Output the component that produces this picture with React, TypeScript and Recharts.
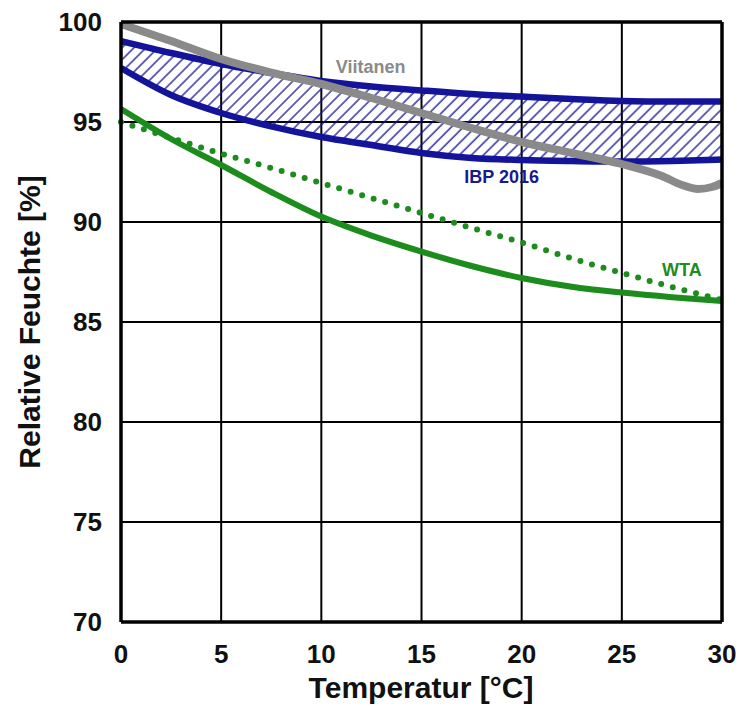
import React from 'react';
import {
  ComposedChart,
  Line,
  Area,
  XAxis,
  YAxis,
  CartesianGrid,
  ReferenceLine,
  ReferenceDot,
  Label,
} from 'recharts';

// ---- data ----
const temps = [0, 2.5, 5, 7.5, 10, 12.5, 15, 17.5, 20, 22.5, 25, 27.5, 30];
const ibpUpper = [99.05, 98.45, 97.9, 97.45, 97.05, 96.78, 96.58, 96.4, 96.27, 96.15, 96.05, 96.02, 96.02];
const ibpLower = [97.7, 96.35, 95.45, 94.78, 94.25, 93.85, 93.45, 93.2, 93.1, 93.05, 93.02, 93.05, 93.12];
const wtaSolid = [95.65, 94.15, 92.85, 91.5, 90.27, 89.32, 88.52, 87.8, 87.2, 86.76, 86.47, 86.24, 86.05];
const wtaDotted = [95.0, 94.2, 93.42, 92.7, 91.95, 91.2, 90.45, 89.7, 88.97, 88.18, 87.45, 86.75, 86.1];

const viitanenT = [0, 2.5, 5, 7.5, 10, 12.5, 15, 17.5, 20, 22.5, 25, 27, 28, 28.8, 29.5, 30];
const viitanenRH = [99.9, 99.05, 98.15, 97.47, 96.9, 96.2, 95.45, 94.7, 94.0, 93.45, 92.9, 92.3, 91.85, 91.65, 91.75, 91.95];

const xTicks = [0, 5, 10, 15, 20, 25, 30];
const yTicks = [70, 75, 80, 85, 90, 95, 100];

const seriesLabels = [
  { text: 'Viitanen', t: 12.46, rh: 97.77, color: '#8a8a8a' },
  { text: 'IBP 2016', t: 19.0, rh: 92.27, color: '#1a1a8c' },
  { text: 'WTA', t: 28.0, rh: 87.6, color: '#1c8c1c' },
];

const xTitle = 'Temperatur [°C]';
const yTitle = 'Relative Feuchte [%]';

// ---- derived tables ----
const bandData = temps.map((t, i) => ({ t, range: [ibpLower[i], ibpUpper[i]] }));
const upperData = temps.map((t, i) => ({ t, v: ibpUpper[i] }));
const lowerData = temps.map((t, i) => ({ t, v: ibpLower[i] }));
const wtaSolidData = temps.map((t, i) => ({ t, v: wtaSolid[i] }));
const wtaDottedData = temps.map((t, i) => ({ t, v: wtaDotted[i] }));
const viitanenData = viitanenT.map((t, i) => ({ t, v: viitanenRH[i] }));

const BLUE = '#14149a';
const GREEN = '#1c8c1c';
const GREY = '#8a8a8a';
const FONT = 'Arial, "Liberation Sans", sans-serif';

export default function App() {
  return (
    <div style={{ position: 'absolute', left: 0, top: 0, width: 740, height: 713, background: '#fff' }}>
      <ComposedChart
        width={740}
        height={713}
        margin={{ top: 22, right: 18, left: 0, bottom: 0 }}
        style={{ fontFamily: FONT }}
      >
        <defs>
          <pattern
            id="hatch"
            patternUnits="userSpaceOnUse"
            width={8.5}
            height={8.5}
            patternTransform="rotate(45)"
          >
            <line x1={1} y1={0} x2={1} y2={8.5} stroke={BLUE} strokeWidth={1.3} />
          </pattern>
        </defs>
        <CartesianGrid stroke="#000" strokeWidth={2} horizontal vertical />
        <XAxis
          type="number"
          dataKey="t"
          domain={[0, 30]}
          ticks={xTicks}
          allowDuplicatedCategory={false}
          axisLine={false}
          tickLine={false}
          tickSize={0}
          tickMargin={23}
          height={91}
          tick={{ fill: '#111', fontSize: 26, fontWeight: 700, fontFamily: FONT }}
          interval={0}
        >
          <Label
            content={() => (
              <text
                x={421}
                y={698}
                textAnchor="middle"
                fill="#111"
                fontSize={30}
                fontWeight={700}
                fontFamily={FONT}
              >
                {xTitle}
              </text>
            )}
          />
        </XAxis>
        <YAxis
          type="number"
          domain={[70, 100]}
          ticks={yTicks}
          axisLine={false}
          tickLine={false}
          tickSize={0}
          tickMargin={19}
          width={121}
          tick={{ fill: '#111', fontSize: 26, fontWeight: 700, fontFamily: FONT }}
          interval={0}
        >
          <Label
            content={() => (
              <text
                x={40}
                y={322}
                textAnchor="middle"
                transform="rotate(-90 40 322)"
                fill="#111"
                fontSize={30}
                fontWeight={700}
                fontFamily={FONT}
              >
                {yTitle}
              </text>
            )}
          />
        </YAxis>

        <Area
          data={bandData}
          dataKey="range"
          type="monotone"
          stroke="none"
          fill="url(#hatch)"
          fillOpacity={1}
          isAnimationActive={false}
          activeDot={false}
        />
        <Line data={wtaDottedData} dataKey="v" type="monotone" stroke={GREEN} strokeWidth={6}
          strokeDasharray="0 12" strokeLinecap="round" dot={false} activeDot={false} isAnimationActive={false} />
        <Line data={wtaSolidData} dataKey="v" type="monotone" stroke={GREEN} strokeWidth={6}
          dot={false} activeDot={false} isAnimationActive={false} />
        <Line data={lowerData} dataKey="v" type="monotone" stroke={BLUE} strokeWidth={6.5}
          dot={false} activeDot={false} isAnimationActive={false} />
        <Line data={upperData} dataKey="v" type="monotone" stroke={BLUE} strokeWidth={6.5}
          dot={false} activeDot={false} isAnimationActive={false} />
        <Line data={viitanenData} dataKey="v" type="monotone" stroke={GREY} strokeWidth={8}
          dot={false} activeDot={false} isAnimationActive={false} />

        <ReferenceLine x={0} stroke="#000" strokeWidth={3.5} />
        <ReferenceLine x={30} stroke="#000" strokeWidth={3.5} />
        <ReferenceLine y={70} stroke="#000" strokeWidth={3.5} />
        <ReferenceLine y={100} stroke="#000" strokeWidth={3.5} />

        {seriesLabels.map((l) => (
          <ReferenceDot
            key={l.text}
            x={l.t}
            y={l.rh}
            r={0}
            fill="none"
            stroke="none"
            label={{
              value: l.text,
              position: 'center',
              fill: l.color,
              fontSize: 18,
              fontWeight: 700,
              fontFamily: FONT,
            }}
          />
        ))}
      </ComposedChart>
    </div>
  );
}
